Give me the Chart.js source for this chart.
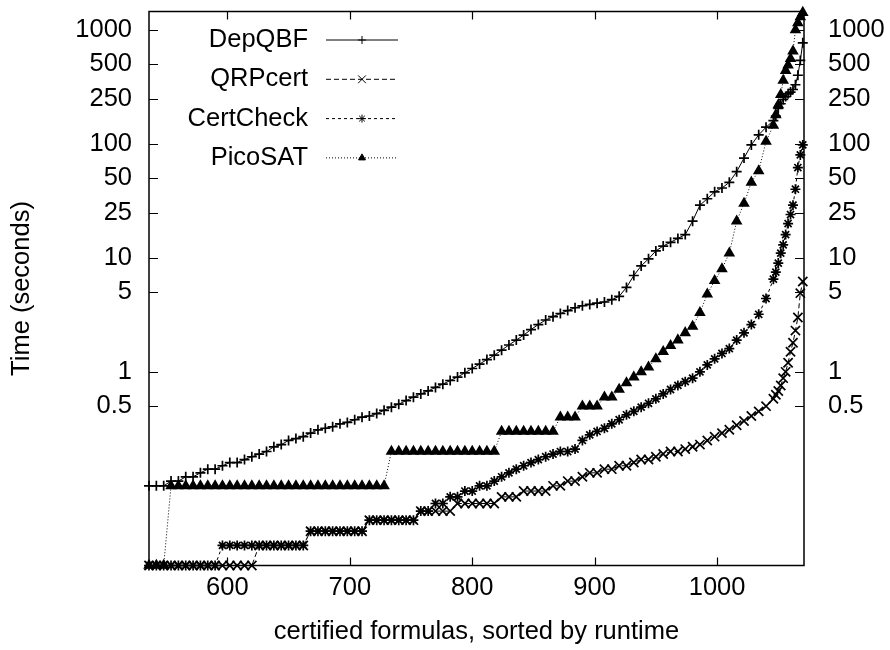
<!DOCTYPE html>
<html>
<head>
<meta charset="utf-8">
<script src="https://cdn.jsdelivr.net/npm/chart.js@4.4.1/dist/chart.umd.min.js"></script>
<style>
  html, body { margin: 0; padding: 0; background: #fff; }
</style>
</head>
<body>
<canvas id="runtime-chart" width="890" height="650"></canvas>
<script>
var formulas = [
  536, 542, 548, 554, 560, 566, 572, 578, 584, 590,
  596, 602, 608, 614, 620, 626, 632, 638, 644, 650,
  656, 662, 668, 674, 680, 686, 692, 698, 704, 710,
  716, 722, 728, 734, 740, 746, 752, 758, 764, 770,
  776, 782, 788, 794, 800, 806, 812, 818, 824, 830,
  836, 842, 848, 854, 860, 866, 872, 878, 884, 890,
  896, 902, 908, 914, 920, 926, 932, 938, 944, 950,
  956, 962, 968, 974, 980, 986, 992, 998, 1004, 1010,
  1016, 1022, 1028, 1034, 1040, 1046,
  1048, 1050, 1052, 1054, 1056, 1058, 1060, 1062, 1064, 1066, 1068, 1070
];

// runtimes in seconds
var depqbf = [
  0.10, 0.10, 0.10, 0.11, 0.11, 0.12, 0.12, 0.13, 0.14, 0.14,
  0.15, 0.16, 0.16, 0.17, 0.18, 0.19, 0.20, 0.22, 0.23, 0.25,
  0.26, 0.27, 0.29, 0.31, 0.32, 0.33, 0.35, 0.36, 0.38, 0.40,
  0.41, 0.43, 0.46, 0.49, 0.52, 0.56, 0.60, 0.64, 0.68, 0.73,
  0.78, 0.84, 0.90, 0.98, 1.07, 1.17, 1.28, 1.40, 1.55, 1.72,
  1.9, 2.1, 2.35, 2.6, 2.85, 3.05, 3.25, 3.45, 3.65, 3.8,
  3.9, 4.0, 4.1, 4.3, 4.6, 5.5, 7.0, 8.5, 9.8, 11.5,
  12.7, 13.7, 14.8, 16.0, 21, 29, 33, 38, 41, 46,
  57, 75, 98, 120, 140, 160,
  175, 205, 225, 245, 260, 275, 285, 300, 330, 400, 540, 770
];
var qrpcert = [
  0.02, 0.02, 0.02, 0.02, 0.02, 0.02, 0.02, 0.02, 0.02, 0.02,
  0.02, 0.02, 0.02, 0.02, 0.02, 0.03, 0.03, 0.03, 0.03, 0.03,
  0.03, 0.03, 0.04, 0.04, 0.04, 0.04, 0.04, 0.04, 0.04, 0.04,
  0.05, 0.05, 0.05, 0.05, 0.05, 0.05, 0.05, 0.06, 0.06, 0.06,
  0.06, 0.06, 0.07, 0.07, 0.07, 0.07, 0.07, 0.07, 0.08, 0.08,
  0.08, 0.09, 0.09, 0.09, 0.09, 0.10, 0.10, 0.11, 0.11, 0.12,
  0.13, 0.13, 0.14, 0.14, 0.15, 0.15, 0.16, 0.17, 0.17, 0.18,
  0.19, 0.20, 0.20, 0.21, 0.22, 0.23, 0.25, 0.27, 0.29, 0.31,
  0.34, 0.37, 0.41, 0.45, 0.50, 0.58,
  0.63, 0.68, 0.76, 0.88, 1.0, 1.2, 1.5, 1.8, 2.3, 3.0, 4.9, 6.2
];
var certcheck = [
  0.02, 0.02, 0.02, 0.02, 0.02, 0.02, 0.02, 0.02, 0.02, 0.02,
  0.03, 0.03, 0.03, 0.03, 0.03, 0.03, 0.03, 0.03, 0.03, 0.03,
  0.03, 0.03, 0.04, 0.04, 0.04, 0.04, 0.04, 0.04, 0.04, 0.04,
  0.05, 0.05, 0.05, 0.05, 0.05, 0.05, 0.05, 0.06, 0.06, 0.07,
  0.07, 0.08, 0.08, 0.09, 0.09, 0.10, 0.10, 0.11, 0.12, 0.13,
  0.14, 0.15, 0.16, 0.17, 0.18, 0.19, 0.20, 0.20, 0.21, 0.25,
  0.28, 0.30, 0.32, 0.35, 0.38, 0.42, 0.45, 0.49, 0.53, 0.58,
  0.64, 0.70, 0.76, 0.82, 0.88, 1.0, 1.15, 1.3, 1.45, 1.6,
  1.9, 2.2, 2.6, 3.2, 4.4, 6.5,
  7.5, 9.0, 11, 13, 16, 20, 24, 29, 40, 62, 80, 98
];
var picosat = [
  0.02, 0.02, 0.02, 0.1, 0.1, 0.1, 0.1, 0.1, 0.1, 0.1,
  0.1, 0.1, 0.1, 0.1, 0.1, 0.1, 0.1, 0.1, 0.1, 0.1,
  0.1, 0.1, 0.1, 0.1, 0.1, 0.1, 0.1, 0.1, 0.1, 0.1,
  0.1, 0.1, 0.1, 0.2, 0.2, 0.2, 0.2, 0.2, 0.2, 0.2,
  0.2, 0.2, 0.2, 0.2, 0.2, 0.2, 0.2, 0.2, 0.3, 0.3,
  0.3, 0.3, 0.3, 0.3, 0.3, 0.3, 0.4, 0.4, 0.4, 0.5,
  0.5, 0.5, 0.6, 0.6, 0.7, 0.8, 0.9, 1.0, 1.1, 1.3,
  1.5, 1.7, 1.9, 2.2, 2.5, 3.3, 4.8, 6.3, 8.0, 11,
  21, 30, 46, 58, 105, 145,
  180, 220, 270, 360, 440, 490, 560, 650, 1000, 1150, 1300, 1420
];

var timeTicks = [0.5, 1, 5, 10, 25, 50, 100, 250, 500, 1000];
var formulaTicks = [600, 700, 800, 900, 1000];

var FONT = "'Liberation Sans', Arial, Helvetica, sans-serif";
var FONT_SIZE = 25.5;

function points(values) {
  return formulas.map(function (f, i) { return { x: f, y: values[i] }; });
}

function series(label, values, dash, style, radius, keyRadius) {
  return {
    label: label,
    data: points(values),
    borderColor: '#000',
    backgroundColor: '#000',
    pointBorderColor: '#000',
    pointBackgroundColor: '#000',
    borderWidth: 1,
    pointBorderWidth: 1.7,
    borderDash: dash,
    pointStyle: style,
    pointRadius: radius,
    keyRadius: keyRadius,
    fill: false,
    tension: 0,
    clip: false
  };
}

// gnuplot style border with inward ticks on all four sides
var frame = {
  id: 'frame',
  beforeDatasetsDraw: function (chart) {
    var ctx = chart.ctx, a = chart.chartArea;
    var xs = chart.scales.x, ys = chart.scales.y;
    ctx.save();
    ctx.strokeStyle = '#000';
    ctx.lineWidth = 1.5;
    ctx.strokeRect(a.left, a.top, a.right - a.left, a.bottom - a.top);
    ctx.lineWidth = 1.2;
    ctx.beginPath();
    timeTicks.forEach(function (v) {
      var py = Math.round(ys.getPixelForValue(v)) + 0.5;
      ctx.moveTo(a.left, py); ctx.lineTo(a.left + 9, py);
      ctx.moveTo(a.right, py); ctx.lineTo(a.right - 9, py);
    });
    formulaTicks.forEach(function (v) {
      var px = Math.round(xs.getPixelForValue(v)) + 0.5;
      ctx.moveTo(px, a.bottom); ctx.lineTo(px, a.bottom - 8);
      ctx.moveTo(px, a.top); ctx.lineTo(px, a.top + 8);
    });
    ctx.stroke();
    ctx.restore();
  }
};

// key in the top left corner: title, then a sample line with the marker in it
var key = {
  id: 'key',
  afterDatasetsDraw: function (chart) {
    var ctx = chart.ctx, a = chart.chartArea;
    ctx.save();
    ctx.font = FONT_SIZE + 'px ' + FONT;
    ctx.textAlign = 'right';
    ctx.textBaseline = 'middle';
    chart.data.datasets.forEach(function (ds, i) {
      var y = a.top + 28.5 + i * 39.3;
      ctx.fillStyle = '#000';
      ctx.strokeStyle = '#000';
      ctx.fillText(ds.label, a.left + 159, y);
      ctx.lineWidth = 1;
      ctx.setLineDash(ds.borderDash);
      ctx.beginPath();
      ctx.moveTo(a.left + 177, y);
      ctx.lineTo(a.left + 249, y);
      ctx.stroke();
      ctx.setLineDash([]);
      Chart.helpers.drawPoint(ctx, {
        pointStyle: ds.pointStyle, radius: ds.keyRadius, borderWidth: 1, rotation: 0
      }, a.left + 213, y);
    });
    ctx.restore();
  }
};

function timeAxis(position, width, pad) {
  return {
    type: 'logarithmic',
    position: position,
    min: 0.02,
    max: 1450,
    afterBuildTicks: function (scale) {
      scale.ticks = timeTicks.map(function (v) { return { value: v }; });
    },
    afterFit: function (scale) {
      scale.width = width;
      scale.paddingTop = 0;
      scale.paddingBottom = 0;
    },
    grid: { display: false, drawTicks: false },
    border: { display: false },
    ticks: {
      color: '#000',
      padding: pad,
      autoSkip: false,
      font: { family: FONT, size: FONT_SIZE },
      callback: function (v) { return String(v); }
    }
  };
}

var yLeft = timeAxis('left', 149, 17);
yLeft.title = {
  display: true,
  text: 'Time (seconds)',
  color: '#000',
  font: { family: FONT, size: FONT_SIZE },
  padding: { top: 7, bottom: 0 }
};
var yRight = timeAxis('right', 86, 24);

var ctx1 = document.getElementById('runtime-chart').getContext('2d');
var cactus = new Chart(ctx1, {
  type: 'line',
  data: {
    datasets: [
      series('DepQBF', depqbf, [], 'cross', 5, 4),
      series('QRPcert', qrpcert, [5, 3], 'crossRot', 6.5, 5.5),
      series('CertCheck', certcheck, [3, 3], 'star', 5, 4),
      series('PicoSAT', picosat, [1, 2], 'triangle', 5, 4)
    ]
  },
  options: {
    responsive: false,
    animation: false,
    devicePixelRatio: 1,
    events: [],
    layout: { padding: { top: 11.5, left: 0, right: 0, bottom: 0 } },
    plugins: {
      legend: { display: false },
      tooltip: { enabled: false },
      colors: { enabled: false }
    },
    scales: {
      x: {
        type: 'linear',
        position: 'bottom',
        min: 536,
        max: 1071,
        afterBuildTicks: function (scale) {
          scale.ticks = formulaTicks.map(function (v) { return { value: v }; });
        },
        afterFit: function (scale) {
          scale.height = 84.5;
          scale.paddingLeft = 0;
          scale.paddingRight = 0;
        },
        grid: { display: false, drawTicks: false },
        border: { display: false },
        ticks: {
          color: '#000',
          padding: 7,
          autoSkip: false,
          maxRotation: 0,
          font: { family: FONT, size: FONT_SIZE },
          callback: function (v) { return String(v); }
        },
        title: {
          display: true,
          text: 'certified formulas, sorted by runtime',
          color: '#000',
          font: { family: FONT, size: FONT_SIZE },
          padding: { top: 0, bottom: 3 }
        }
      },
      y: yLeft,
      y2: yRight
    }
  },
  plugins: [frame, key]
});
</script>
</body>
</html>
